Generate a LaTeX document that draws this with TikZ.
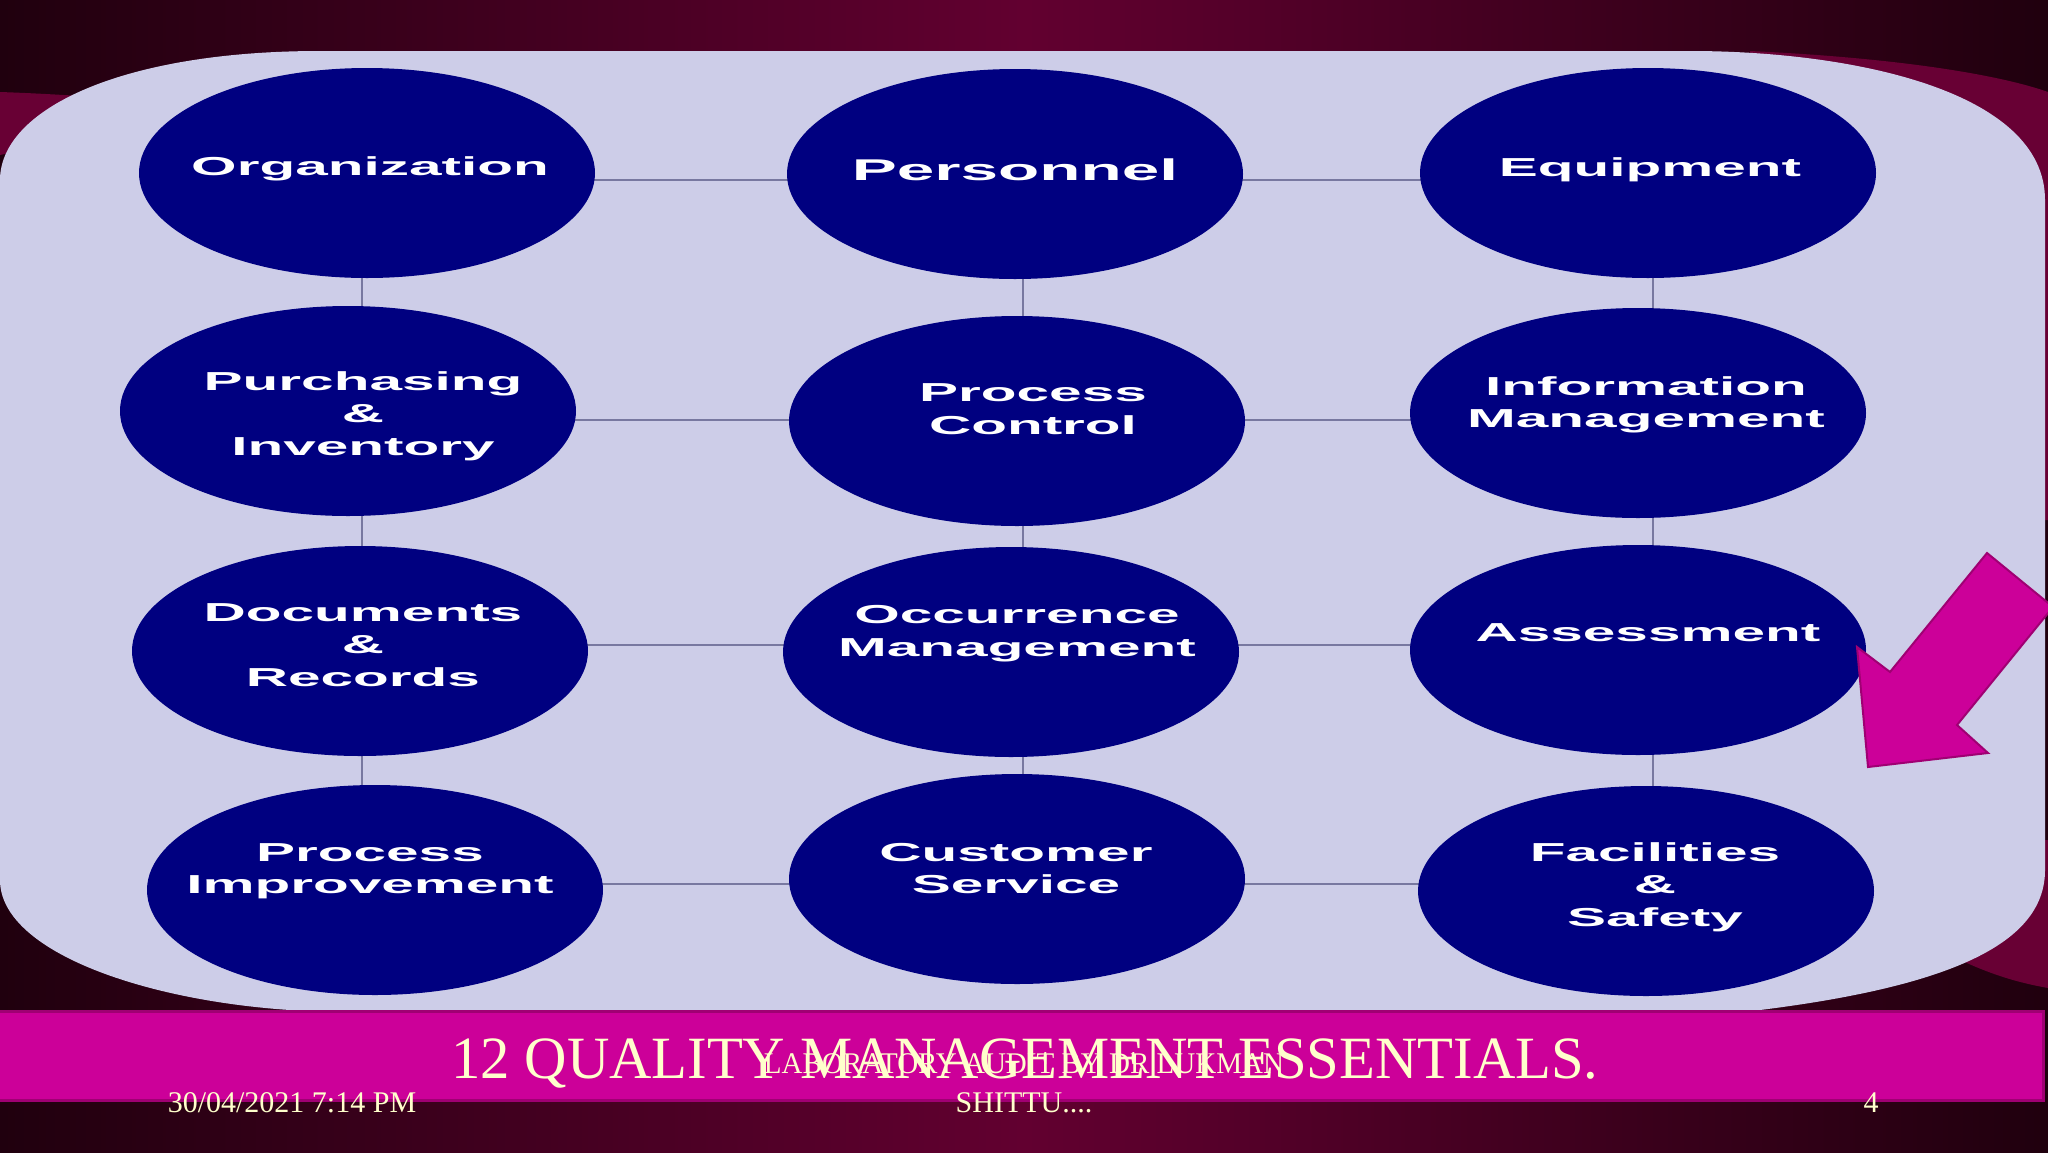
\documentclass[tikz,border=0pt]{standalone}
\usepackage{fontspec}
\usepackage{graphicx}
\usetikzlibrary{shapes.geometric}
\newfontfamily\efont{Liberation Sans}[FakeStretch=2.25]
\newfontfamily\tfont{Liberation Serif}
\definecolor{navyE}{RGB}{0,0,128}
\definecolor{panelC}{RGB}{205,205,232}
\definecolor{darkM}{RGB}{32,0,14}
\definecolor{midM}{RGB}{98,0,48}
\definecolor{swooshC}{RGB}{104,0,52}
\definecolor{barC}{RGB}{204,0,153}
\definecolor{barEdge}{RGB}{160,0,115}
\definecolor{creamC}{RGB}{255,255,204}
\definecolor{connC}{RGB}{120,120,160}
\pgfdeclarelayer{back}
\pgfdeclarelayer{mid}
\pgfsetlayers{back,mid,main}
\begin{document}
\begin{tikzpicture}[x=1pt,y=-1pt,
  ell/.style={ellipse, fill=navyE, minimum width=456pt, minimum height=210pt, inner sep=0pt},
  etxt/.style={text=white, anchor=base, inner sep=0pt, font=\efont\bfseries\fontsize{26}{32}\selectfont},
  bigtxt/.style={etxt, font=\efont\bfseries\fontsize{30}{36}\selectfont},
  conn/.style={draw=connC, line width=2pt},
  ftxt/.style={text=creamC, anchor=base, inner sep=0pt, font=\tfont\fontsize{30}{36}\selectfont},
  ttl/.style={text=creamC, anchor=base, inner sep=0pt, font=\tfont\fontsize{60}{70}\selectfont}]
\useasboundingbox (0,0) rectangle (2048,1152);
\clip (0,0) rectangle (2048,1152);

\begin{pgfonlayer}{back}
  % background gradient
  \shade[left color=darkM, right color=darkM, middle color=midM] (0,0) rectangle (2048,1152);
  % swooshes
  \fill[swooshC] (0,92) .. controls (60,94) and (150,100) .. (250,110) -- (250,140) .. controls (100,140) and (30,148) .. (0,155) -- cycle;
  \fill[swooshC] (1750,51) .. controls (1900,58) and (2000,75) .. (2048,92) -- (2048,520) -- (1800,520) -- cycle;
  \fill[swooshC] (1950,955) .. controls (1990,975) and (2020,983) .. (2048,988) -- (2048,840) -- (1950,840) -- cycle;
  % panel
  \fill[panelC] (320,51) -- (1690,51) .. controls (1850,51) and (2045,90) .. (2045,200)
     -- (2045,870) .. controls (2045,940) and (1960,985) .. (1760,1010)
     -- (290,1010) .. controls (140,1000) and (0,950) .. (0,880)
     -- (0,180) .. controls (0,110) and (120,51) .. (320,51) -- cycle;
  % bottom bar
  \draw[fill=barC, draw=barEdge, line width=3pt] (-5,1011) rectangle (2043,1100);
\end{pgfonlayer}

% ellipses
\node[ell] (org)    at (367,173) {};
\node[ell] (pers)   at (1015,174) {};
\node[ell] (equip)  at (1648,173) {};
\node[ell] (purch)  at (348,411) {};
\node[ell] (pctl)   at (1017,421) {};
\node[ell] (info)   at (1638,413) {};
\node[ell] (docs)   at (360,651) {};
\node[ell] (occ)    at (1011,652) {};
\node[ell] (assess) at (1638,650) {};
\node[ell] (impr)   at (375,890) {};
\node[ell] (cust)   at (1017,879) {};
\node[ell] (fac)    at (1646,891) {};

% grid coordinates for connectors
\coordinate (r1) at (0,180);
\coordinate (r2) at (0,420);
\coordinate (r3) at (0,645);
\coordinate (r4) at (0,884);
\coordinate (k1) at (362,0);
\coordinate (k2) at (1023,0);
\coordinate (k3) at (1653,0);

\begin{pgfonlayer}{mid}
  \draw[conn] (org |- r1) -- (pers |- r1);
  \draw[conn] (pers |- r1) -- (equip |- r1);
  \draw[conn] (purch |- r2) -- (pctl |- r2);
  \draw[conn] (pctl |- r2) -- (info |- r2);
  \draw[conn] (docs |- r3) -- (occ |- r3);
  \draw[conn] (occ |- r3) -- (assess |- r3);
  \draw[conn] (impr |- r4) -- (cust |- r4);
  \draw[conn] (cust |- r4) -- (fac |- r4);
  \draw[conn] (org -| k1) -- (purch -| k1);
  \draw[conn] (purch -| k1) -- (docs -| k1);
  \draw[conn] (docs -| k1) -- (impr -| k1);
  \draw[conn] (pers -| k2) -- (pctl -| k2);
  \draw[conn] (pctl -| k2) -- (occ -| k2);
  \draw[conn] (occ -| k2) -- (cust -| k2);
  \draw[conn] (equip -| k3) -- (info -| k3);
  \draw[conn] (info -| k3) -- (assess -| k3);
  \draw[conn] (assess -| k3) -- (fac -| k3);
\end{pgfonlayer}

% ellipse texts
\node[etxt] (orgT) at (370,175) {Organization};
\node[bigtxt] (persT) at (1015,180) {Personnel};
\node[etxt] (equipT) at (1650,176) {Equipment};
\node[etxt] (purchA) at (363,390) {Purchasing};
\node[etxt] (purchB) at (363,422) {\&};
\node[etxt] (purchC) at (363,455) {Inventory};
\node[etxt] (pctlA) at (1033,401) {Process};
\node[etxt] (pctlB) at (1033,434) {Control};
\node[etxt] (infoA) at (1646,395) {Information};
\node[etxt] (infoB) at (1646,427) {Management};
\node[etxt] (docsA) at (363,621) {Documents};
\node[etxt] (docsB) at (363,653) {\&};
\node[etxt] (docsC) at (363,686) {Records};
\node[etxt] (occA) at (1017,623) {Occurrence};
\node[etxt] (occB) at (1017,656) {Management};
\node[etxt] (assessT) at (1648,641) {Assessment};
\node[etxt] (imprA) at (370,861) {Process};
\node[etxt] (imprB) at (370,893) {Improvement};
\node[etxt] (custA) at (1016,861) {Customer};
\node[etxt] (custB) at (1016,893) {Service};
\node[etxt] (facA) at (1655,861) {Facilities};
\node[etxt] (facB) at (1655,893) {\&};
\node[etxt] (facC) at (1655,926) {Safety};

% pink arrow
\draw[fill=barC, draw=barEdge, line width=2pt, line join=miter]
  (1868,767) -- (1857,647) -- (1890,672) -- (1987,553) -- (2053,607) -- (1957,725) -- (1988,753) -- cycle;

% footer texts
\node[ttl] (title) at (1025,1078) {\scalebox{0.978}[1]{12 QUALITY MANAGEMENT ESSENTIALS.}};
\node[ftxt] (lab) at (1024,1073) {\scalebox{0.967}[1]{LABORATORY AUDIT BY DR LUKMAN}};
\node[ftxt] (shittu) at (1024,1112) {SHITTU....};
\node[ftxt] (date) at (292,1112) {30/04/2021 7:14 PM};
\node[ftxt] (page) at (1871,1112) {4};
\end{tikzpicture}
\end{document}
